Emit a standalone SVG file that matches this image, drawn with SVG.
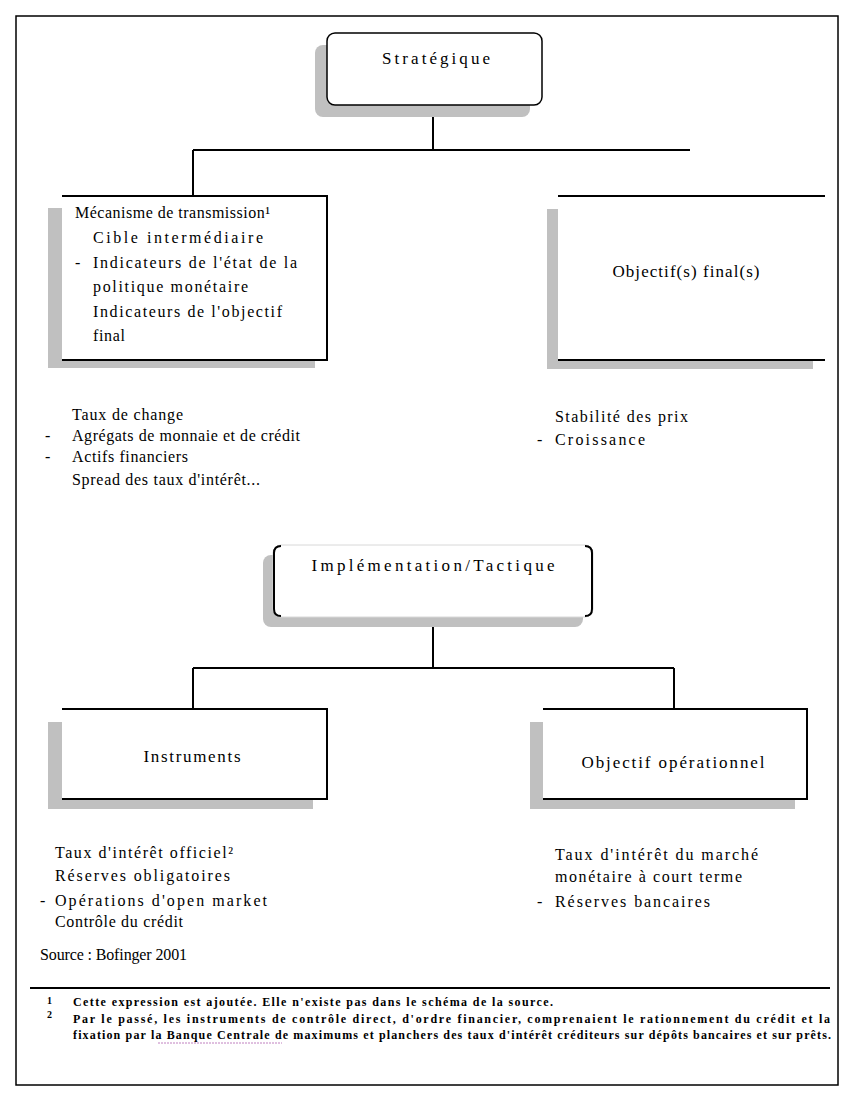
<svg xmlns="http://www.w3.org/2000/svg" width="852" height="1101" viewBox="0 0 852 1101">
<style>
.t{font-family:"Liberation Serif","Times New Roman",serif;font-size:16px;fill:#000}
.n{font-family:"Liberation Serif","Times New Roman",serif;font-size:17px;fill:#000}
.f{font-family:"Liberation Serif","Times New Roman",serif;font-size:12px;font-weight:bold;fill:#000}
.m{font-family:"Liberation Serif","Times New Roman",serif;font-size:10px;font-weight:bold;fill:#000}
.sh{fill:#c0c0c0}
.bx{fill:#fff}
.ed{fill:none;stroke:#000;stroke-width:2}
.cn{fill:none;stroke:#000;stroke-width:2}
</style>
<rect x="16" y="16" width="822" height="1069" fill="#fff" stroke="#000" stroke-width="1.5"/>

<g id="connectors">
<path class="cn" d="M433 105V150M193 150H690M193 150V196"/>
<path class="cn" d="M433 617V668M193 668H674M193 668V709M674 668V709"/>
</g>

<g id="strategique">
<rect class="sh" x="315" y="45" width="215" height="72" rx="8"/>
<rect x="327" y="33" width="215" height="72" rx="8" fill="#fff" stroke="#000" stroke-width="1.5"/>
<text class="n" x="436" y="64" text-anchor="middle" textLength="108" lengthAdjust="spacing">Stratégique</text>
</g>

<g id="mecanisme">
<rect class="sh" x="48" y="208" width="267" height="160"/>
<rect class="bx" x="62" y="196" width="265" height="164"/>
<path class="ed" d="M62 196H327V360H62"/>
<text class="t" x="75" y="218" textLength="195" lengthAdjust="spacing">Mécanisme de transmission¹</text>
<text class="t" x="93" y="243" textLength="170" lengthAdjust="spacing">Cible intermédiaire</text>
<text class="t" x="75" y="268">-</text>
<text class="t" x="93" y="268" textLength="204" lengthAdjust="spacing">Indicateurs de l'état de la</text>
<text class="t" x="93" y="292" textLength="155" lengthAdjust="spacing">politique monétaire</text>
<text class="t" x="93" y="317" textLength="189" lengthAdjust="spacing">Indicateurs de l'objectif</text>
<text class="t" x="93" y="341" textLength="32" lengthAdjust="spacing">final</text>
</g>

<g id="objectif-final">
<rect class="sh" x="547" y="209" width="266" height="160"/>
<rect class="bx" x="558" y="196" width="267" height="164"/>
<path class="ed" d="M558 196H825M558 360H825"/>
<text class="n" x="686" y="277" text-anchor="middle" textLength="147" lengthAdjust="spacing">Objectif(s) final(s)</text>
</g>

<g id="liste-gauche">
<text class="t" x="72" y="420" textLength="111" lengthAdjust="spacing">Taux de change</text>
<text class="t" x="45" y="441">-</text>
<text class="t" x="72" y="441" textLength="228" lengthAdjust="spacing">Agrégats de monnaie et de crédit</text>
<text class="t" x="45" y="462">-</text>
<text class="t" x="72" y="462" textLength="116" lengthAdjust="spacing">Actifs financiers</text>
<text class="t" x="72" y="485" textLength="188" lengthAdjust="spacing">Spread des taux d'intérêt...</text>
</g>

<g id="liste-droite">
<text class="t" x="555" y="422" textLength="133" lengthAdjust="spacing">Stabilité des prix</text>
<text class="t" x="537" y="445">-</text>
<text class="t" x="555" y="445" textLength="90" lengthAdjust="spacing">Croissance</text>
</g>

<g id="implementation">
<rect class="sh" x="263" y="555" width="320" height="72" rx="8"/>
<rect x="273" y="545" width="320" height="72" rx="8" fill="#fff" stroke="#d8d8d8" stroke-width="1"/>
<path class="ed" d="M281 546Q274 546 274 553V609Q274 616 281 616M585 546Q592 546 592 553V609Q592 616 585 616" stroke-width="1.5"/>
<text class="n" x="433" y="571" text-anchor="middle" textLength="243" lengthAdjust="spacing">Implémentation/Tactique</text>
</g>

<g id="instruments">
<rect class="sh" x="48" y="722" width="265" height="87"/>
<rect class="bx" x="62" y="709" width="265" height="90"/>
<path class="ed" d="M62 709H327V799H62"/>
<text class="n" x="192" y="762" text-anchor="middle" textLength="97" lengthAdjust="spacing">Instruments</text>
</g>

<g id="objectif-operationnel">
<rect class="sh" x="530" y="722" width="265" height="87"/>
<rect class="bx" x="543" y="709" width="264" height="90"/>
<path class="ed" d="M543 709H807V799H543"/>
<text class="n" x="673" y="768" text-anchor="middle" textLength="183" lengthAdjust="spacing">Objectif opérationnel</text>
</g>

<g id="liste-instruments">
<text class="t" x="55" y="858" textLength="178" lengthAdjust="spacing">Taux d'intérêt officiel²</text>
<text class="t" x="55" y="881" textLength="175" lengthAdjust="spacing">Réserves obligatoires</text>
<text class="t" x="40" y="906">-</text>
<text class="t" x="55" y="906" textLength="212" lengthAdjust="spacing">Opérations d'open market</text>
<text class="t" x="55" y="927" textLength="128" lengthAdjust="spacing">Contrôle du crédit</text>
</g>

<g id="liste-operationnel">
<text class="t" x="555" y="860" textLength="203" lengthAdjust="spacing">Taux d'intérêt du marché</text>
<text class="t" x="555" y="882" textLength="187" lengthAdjust="spacing">monétaire à court terme</text>
<text class="t" x="537" y="907">-</text>
<text class="t" x="555" y="907" textLength="155" lengthAdjust="spacing">Réserves bancaires</text>
</g>

<g id="source">
<text class="t" x="40" y="960" textLength="147" lengthAdjust="spacing">Source : Bofinger 2001</text>
<line x1="30" y1="988" x2="830" y2="988" stroke="#000" stroke-width="2"/>
</g>

<g id="notes">
<text class="m" x="47" y="1004">1</text>
<text class="f" x="73" y="1006" textLength="480" lengthAdjust="spacing">Cette expression est ajoutée. Elle n'existe pas dans le schéma de la source.</text>
<text class="m" x="47" y="1018">2</text>
<text class="f" x="73" y="1023" textLength="757" lengthAdjust="spacing">Par le passé, les instruments de contrôle direct, d'ordre financier, comprenaient le rationnement du crédit et la</text>
<text class="f" x="73" y="1039" textLength="758" lengthAdjust="spacing">fixation par la Banque Centrale de maximums et planchers des taux d'intérêt créditeurs sur dépôts bancaires et sur prêts.</text>
<line x1="158" y1="1043" x2="282" y2="1043" stroke="#c080c0" stroke-width="1" stroke-dasharray="2 1"/>
</g>
</svg>
